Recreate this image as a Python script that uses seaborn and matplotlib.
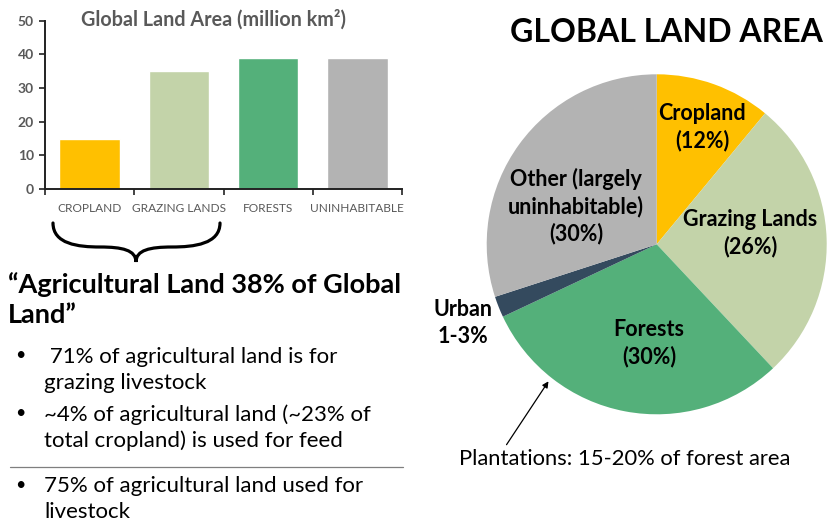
import matplotlib
matplotlib.use("Agg")
import matplotlib.pyplot as plt
from matplotlib.path import Path
from matplotlib.patches import PathPatch
import seaborn as sns

# ── data ────────────────────────────────────────────────────────────────────
bar_categories = ["CROPLAND", "GRAZING LANDS", "FORESTS", "UNINHABITABLE"]
bar_values = [15, 35, 39, 39]
bar_colors = ["#FFC000", "#C3D3A9", "#54B07A", "#B3B3B3"]
bar_ticks = [0, 10, 20, 30, 40, 50]

pie_names = ["Cropland", "Grazing Lands", "Forests", "Urban", "Other"]
pie_shares = [11, 27, 30, 2, 30]
pie_colors = ["#FFC000", "#C3D3A9", "#54B07A", "#344A5E", "#B3B3B3"]
pie_texts = ["Cropland\n(12%)", "Grazing Lands\n(26%)", "Forests\n(30%)",
             "Urban\n1-3%", "Other (largely\nuninhabitable)\n(30%)"]

quote = "\u201cAgricultural Land 38% of Global\nLand\u201d"
bullets_top = [" 71% of agricultural land is for\ngrazing livestock",
               "~4% of agricultural land (~23% of\ntotal cropland) is used for feed"]
bullets_bottom = ["75% of agricultural land used for\nlivestock"]

W, H = 828, 523
GRAY = "#595959"

sns.set_theme(style="white")
plt.rcParams["font.family"] = ["Lato", "DejaVu Sans"]

fig = plt.figure(figsize=(W / 100, H / 100), dpi=100)

# ── bar chart ───────────────────────────────────────────────────────────────
ax = fig.add_axes([45 / W, 1 - 189 / H, 357 / W, 168.3 / H])
sns.barplot(x=bar_categories, y=bar_values, hue=bar_categories, palette=bar_colors,
            width=0.68, saturation=1, legend=False, ax=ax)
ax.set_xlim(-0.5, 3.5)
ax.set_ylim(0, 50)
ax.set_yticks(bar_ticks)
ax.set_xticks([i - 0.5 for i in range(5)], minor=True)
sns.despine(ax=ax)
for s in ["left", "bottom"]:
    ax.spines[s].set_color("#222222")
    ax.spines[s].set_linewidth(1.4)
ax.tick_params(axis="y", which="major", left=True, length=4, width=1.2, color="#222222",
               labelsize=10, labelcolor=GRAY, pad=4)
ax.tick_params(axis="x", which="major", length=0, labelsize=8.6, labelcolor=GRAY, pad=10)
ax.tick_params(axis="x", which="minor", bottom=True, length=4, width=1.2, color="#222222")
for lbl in ax.get_yticklabels():
    lbl.set_fontweight("bold")
ax.set_xlabel(""); ax.set_ylabel("")
ax.grid(False)

# ── pie chart ───────────────────────────────────────────────────────────────
cx, cy, r = 656.7, 244.3, 170
pax = fig.add_axes([(cx - r) / W, 1 - (cy + r) / H, 2 * r / W, 2 * r / H])
pax.pie(pie_shares, colors=pie_colors, startangle=90, counterclock=False,
        wedgeprops=dict(linewidth=0))
pax.set_xlim(-1, 1); pax.set_ylim(-1, 1)

# ── overlay for text / annotations (pixel coords) ──────────────────────────
ov = fig.add_axes([0, 0, 1, 1], zorder=5)
ov.set_xlim(0, W); ov.set_ylim(H, 0)
ov.axis("off")
ov.patch.set_visible(False)

ov.text(214, 20, "Global Land Area (million km\u00b2)", ha="center", va="center",
        fontsize=14.2, fontweight="bold", color=GRAY)

# brace under cropland + grazing lands
verts = [(53, 223), (53, 244), (78, 247), (100, 247),
         (122, 247), (136, 250), (136, 262),
         (136, 250), (150, 247), (172, 247),
         (194, 247), (220, 244), (220, 223)]
codes = [Path.MOVETO] + [Path.CURVE4] * 12
ov.add_patch(PathPatch(Path(verts, codes), fill=False, lw=2.3, ec="black", capstyle="round"))

ov.text(8, 300, quote, ha="left", va="center", fontsize=19.5, fontweight="bold",
        color="black", linespacing=1.3)

y = 355
for b in bullets_top:
    ov.text(15, y, "\u2022", ha="left", va="center", fontsize=13, color="black")
    ov.text(44, y + 15, b, ha="left", va="center", fontsize=16, color="black", linespacing=1.35)
    y += 58
ov.plot([10, 403], [467, 467], color="#7F7F7F", lw=0.9)
ov.text(15, 485, "\u2022", ha="left", va="center", fontsize=13, color="black")
ov.text(44, 499, bullets_bottom[0], ha="left", va="center", fontsize=16, color="black",
        linespacing=1.35)

ov.text(666, 33, "GLOBAL LAND AREA", ha="center", va="center", fontsize=23,
        fontweight="bold", color="black")

label_pos = [(702, 127), (750, 233), (649, 343), (463, 323), (576, 206)]
for txt, (lx, ly) in zip(pie_texts, label_pos):
    ov.text(lx, ly, txt, ha="center", va="center", fontsize=15.5, fontweight="bold",
            color="black", linespacing=1.3)

ov.annotate("", xy=(550, 379), xytext=(505, 447),
            arrowprops=dict(arrowstyle="-|>", color="black", lw=0.9, mutation_scale=9))
ov.text(625, 459, "Plantations: 15-20% of forest area", ha="center", va="center",
        fontsize=15.8, color="black")

fig.savefig("out.png", dpi=100)
plt.close(fig)
